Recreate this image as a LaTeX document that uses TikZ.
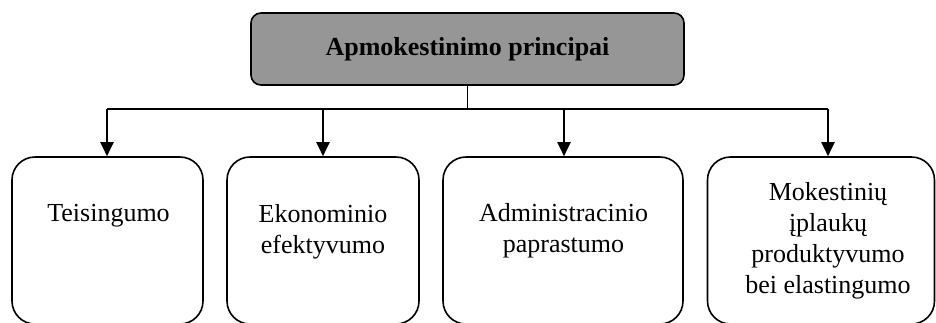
\documentclass[tikz,border=0pt]{standalone}
\usepackage{fontspec}
\setmainfont{Liberation Serif}
\usetikzlibrary{arrows.meta}
\definecolor{topgray}{RGB}{150,150,150}
\tikzset{
  boxbase/.style={draw=black, line width=1.6pt, rounded corners=23pt, inner sep=0pt},
  headbox/.style={draw=black, line width=1.6pt, rounded corners=10pt, fill=topgray, inner sep=0pt,
    minimum width=433pt, minimum height=72pt, font=\fontsize{26}{31}\selectfont\bfseries},
  txt/.style={inner sep=0pt, align=center, anchor=north, font=\fontsize{26}{31}\selectfont},
  conn/.style={line width=1.8pt},
  arr/.style={line width=2pt, -{Triangle[width=13pt,length=14pt]}}
}
\begin{document}
\begin{tikzpicture}[x=1pt,y=-1pt]
\useasboundingbox (0,0) rectangle (936,322);
\clip (0,0) rectangle (936,322);
\node[headbox] (top) at (467.5,49) {Apmokestinimo principai};
\node[boxbase, minimum width=191pt, minimum height=167pt] (b1) at (107.5,240.5) {};
\node[boxbase, minimum width=192pt, minimum height=167pt] (b2) at (323,240.5) {};
\node[boxbase, minimum width=240pt, minimum height=167pt] (b3) at (563,240.5) {};
\node[boxbase, minimum width=227pt, minimum height=167pt] (b4) at (821,240.5) {};
\node[txt] (t1) at (108.5,204.2) {Teisingumo};
\node[txt] (t2) at (323,204.2) {Ekonominio\\efektyvumo};
\node[txt] (t3) at (563.5,203.2) {Administracinio\\paprastumo};
\node[txt] (t4) at (828,182.2) {Mokestinių\\įplaukų\\produktyvumo\\bei elastingumo};
\coordinate (bus) at (467.5,109);
\coordinate (c1) at (107,109);
\coordinate (c2) at (323,109);
\coordinate (c3) at (564,109);
\coordinate (c4) at (828,109);
\draw[conn] (top.south) -- (bus);
\draw[conn] (c1) -- (c4);
\draw[arr] (c1) -- (c1 |- b1.north);
\draw[arr] (c2) -- (c2 |- b2.north);
\draw[arr] (c3) -- (c3 |- b3.north);
\draw[arr] (c4) -- (c4 |- b4.north);
\end{tikzpicture}
\end{document}
